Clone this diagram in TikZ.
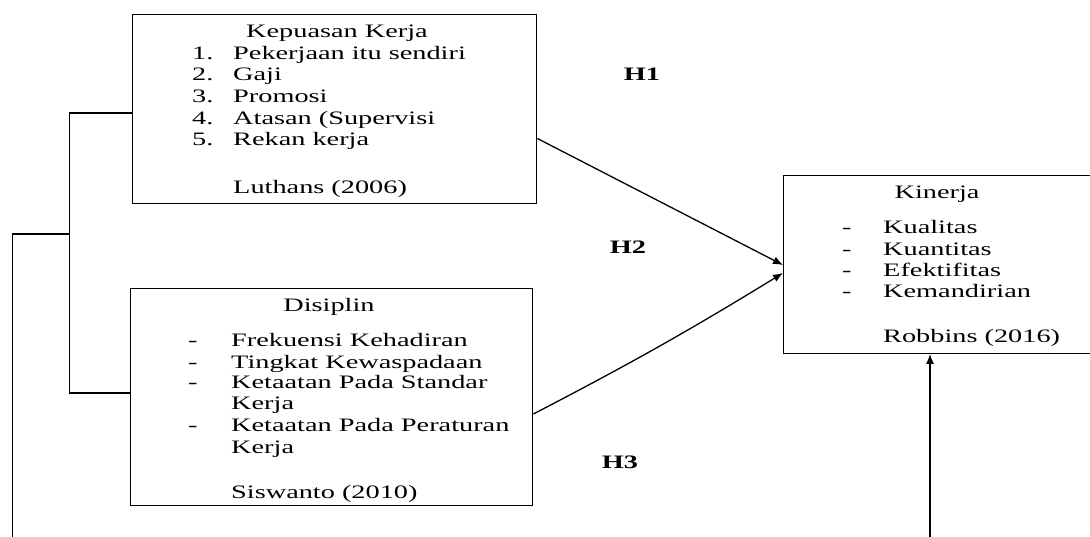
\documentclass[tikz,border=0pt]{standalone}
\usepackage{fontspec}
\setmainfont{Liberation Serif}[FakeStretch=1.49]
\usetikzlibrary{arrows.meta}
\tikzset{
  box/.style={draw, line width=1.4pt, inner sep=0pt, anchor=north west},
  txt/.style={inner sep=0pt, anchor=base west, font=\fontsize{19}{21.7}\selectfont},
  ttl/.style={txt, anchor=base},
  hyp/.style={inner sep=0pt, anchor=base, font=\fontsize{19}{21.7}\selectfont\bfseries},
  conn/.style={line width=1.3pt},
  arr/.style={conn, -{Latex[length=10pt,width=8pt]}}
}
\begin{document}
\begin{tikzpicture}[x=1pt,y=-1pt]
\useasboundingbox (0,0) rectangle (1090,536);
\clip (0,0) rectangle (1090,536);
\fill[white] (0,0) rectangle (1090,536);

% boxes
\node[box, minimum width=404pt, minimum height=189pt] (kepuasan) at (132,14) {};
\node[box, minimum width=402pt, minimum height=217pt] (disiplin) at (130,288) {};
\node[box, minimum width=340pt, minimum height=177.5pt] (kinerja) at (783,175) {};

% Kepuasan Kerja text
\node[ttl] (t1) at (337,37) {Kepuasan Kerja};
\node[txt] (n11) at (192,59) {1.};   \node[txt] (i11) at (233,59) {Pekerjaan itu sendiri};
\node[txt] (n12) at (192,80.7) {2.}; \node[txt] (i12) at (233,80.7) {Gaji};
\node[txt] (n13) at (192,102.3) {3.};\node[txt] (i13) at (233,102.3) {Promosi};
\node[txt] (n14) at (192,124) {4.};  \node[txt] (i14) at (233,124) {Atasan (Supervisi};
\node[txt] (n15) at (192,145.7) {5.};\node[txt] (i15) at (233,145.7) {Rekan kerja};
\node[txt] (s1) at (233,193) {Luthans (2006)};

% Disiplin text
\node[ttl] (t2) at (329,311) {Disiplin};
\node[txt] (d21) at (188,346) {-}; \node[txt] (i21) at (231,346) {Frekuensi Kehadiran};
\node[txt] (d22) at (188,368) {-}; \node[txt] (i22) at (231,368) {Tingkat Kewaspadaan};
\node[txt] (d23) at (188,388) {-}; \node[txt] (i23) at (231,388) {Ketaatan Pada Standar};
\node[txt] (i23b) at (231,409) {Kerja};
\node[txt] (d24) at (188,431) {-}; \node[txt] (i24) at (231,431) {Ketaatan Pada Peraturan};
\node[txt] (i24b) at (231,453) {Kerja};
\node[txt] (s2) at (231,498) {Siswanto (2010)};

% Kinerja text
\node[ttl] (t3) at (937,198) {Kinerja};
\node[txt] (d31) at (842,233) {-}; \node[txt] (i31) at (883,233) {Kualitas};
\node[txt] (d32) at (842,255) {-}; \node[txt] (i32) at (883,255) {Kuantitas};
\node[txt] (d33) at (842,276) {-}; \node[txt] (i33) at (883,276) {Efektifitas};
\node[txt] (d34) at (842,297) {-}; \node[txt] (i34) at (883,297) {Kemandirian};
\node[txt] (s3) at (883,342.5) {Robbins (2016)};

% hypothesis labels
\node[hyp] (h1) at (642,80) {H1};
\node[hyp] (h2) at (628,253) {H2};
\node[hyp] (h3) at (620,468) {H3};

% left bracket
\coordinate (bt) at (69.5,113);
\coordinate (bb) at (69.5,393);
\coordinate (bm) at (69.5,234);
\coordinate (ob) at (12.5,540);
\draw[conn] (kepuasan.west |- bt) -- (bt) -- (bb) -- (disiplin.west |- bb);
\draw[conn] (ob) |- (bm);

% arrows
\coordinate (a1) at (783,265);
\coordinate (a2) at (783,273);
\draw[arr] (kepuasan.east |- 0,138.5) -- (kinerja.west |- a1);
\draw[arr] (disiplin.east |- 0,414) to[bend right=2] (kinerja.west |- a2);
\coordinate (ib) at (930,540);
\draw[arr] (ib) -- (ib |- kinerja.south);
\end{tikzpicture}
\end{document}
